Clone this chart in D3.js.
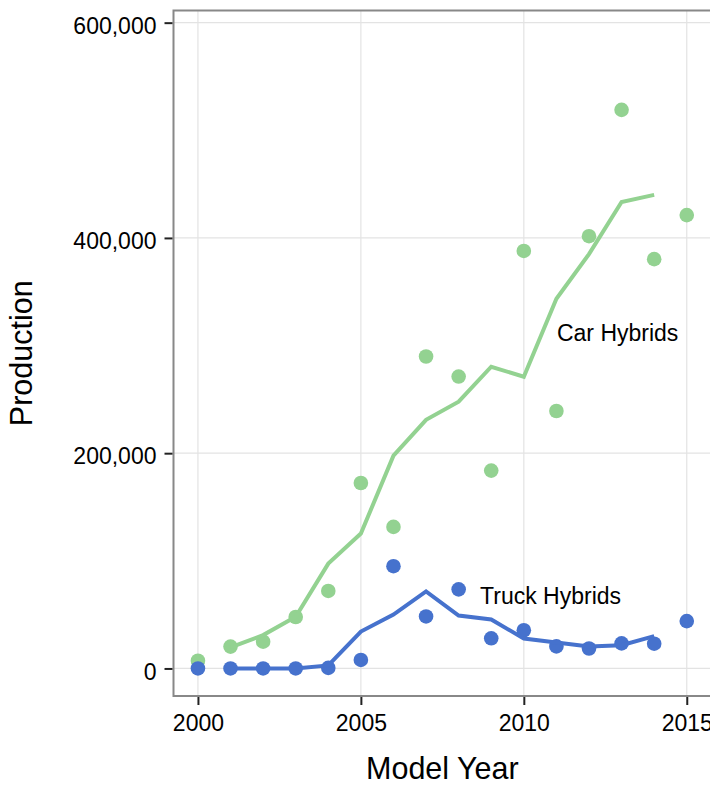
<!DOCTYPE html>
<html>
<head>
<meta charset="utf-8">
<script src="https://cdn.jsdelivr.net/npm/d3@7"></script>
<style>
  body { margin: 0; background: #fff; }
  svg { display: block; font-family: "Liberation Sans", Arial, sans-serif; }
</style>
</head>
<body>
<svg width="710" height="785"></svg>
<script>
// values
var years      = [2000, 2001, 2002, 2003, 2004, 2005, 2006, 2007, 2008, 2009, 2010, 2011, 2012, 2013, 2014, 2015];
var carPoints  = [7200, 20300, 24900, 47800, 72000, 172300, 131500, 289800, 271200, 183800, 387900, 239200, 401600, 519000, 380300, 421200];
var truckPoints = [0, 0, 0, 0, 500, 7900, 95000, 48300, 73500, 28000, 35500, 20500, 18500, 23300, 23000, 44000];

var lineYears  = [2001, 2002, 2003, 2004, 2005, 2006, 2007, 2008, 2009, 2010, 2011, 2012, 2013, 2014];
var carLine    = [19500, 31000, 48000, 97400, 125300, 197700, 231000, 247800, 280300, 271000, 343400, 385000, 433400, 440000];
var truckLine  = [0, 0, 0, 2800, 34300, 50000, 71600, 49200, 45500, 27800, 24100, 20400, 21600, 30000];

var xTicks = [2000, 2005, 2010, 2015];
var yTicks = [0, 200000, 400000, 600000];

var labels = [
  { text: "Car Hybrids",   x: 2012.88, y: 312000 },
  { text: "Truck Hybrids", x: 2010.82, y: 67400 }
];

var carColor   = "#93d291";
var truckColor = "#4672cd";

var svg = d3.select("svg");
var pLeft = 173.5, pRight = 711.2, pTop = 10.5, pBottom = 696;

var x = d3.scaleLinear().domain([1999.25, 2015.75]).range([pLeft, pRight]);
var y = d3.scaleLinear().domain([-25600, 611300]).range([pBottom, pTop]);

svg.append("rect").attr("width", 710).attr("height", 785).attr("fill", "#fff");

// grid
var grid = svg.append("g");
grid.selectAll(".gx").data(xTicks).enter().append("line")
  .attr("x1", x).attr("x2", x).attr("y1", pTop).attr("y2", pBottom)
  .attr("stroke", "#e3e3e3").attr("stroke-width", 1.2);
grid.selectAll(".gy").data(yTicks).enter().append("line")
  .attr("x1", pLeft).attr("x2", pRight).attr("y1", y).attr("y2", y)
  .attr("stroke", "#e3e3e3").attr("stroke-width", 1.2);

// car hybrids
svg.append("g").selectAll("circle").data(years).enter().append("circle")
  .attr("cx", function(d) { return x(d); })
  .attr("cy", function(d, i) { return y(carPoints[i]); })
  .attr("r", 7.3)
  .attr("fill", carColor);

var line = d3.line()
  .x(function(d) { return x(d[0]); })
  .y(function(d) { return y(d[1]); });

svg.append("path")
  .datum(d3.zip(lineYears, carLine))
  .attr("d", line)
  .attr("fill", "none")
  .attr("stroke", carColor)
  .attr("stroke-width", 4);

// truck hybrids
svg.append("g").selectAll("circle").data(years).enter().append("circle")
  .attr("cx", function(d) { return x(d); })
  .attr("cy", function(d, i) { return y(truckPoints[i]); })
  .attr("r", 7.3)
  .attr("fill", truckColor);

svg.append("path")
  .datum(d3.zip(lineYears, truckLine))
  .attr("d", line)
  .attr("fill", "none")
  .attr("stroke", truckColor)
  .attr("stroke-width", 4);

// labels
svg.selectAll(".lab").data(labels).enter().append("text")
  .attr("x", function(d) { return x(d.x); })
  .attr("y", function(d) { return y(d.y); })
  .attr("dy", "0.36em")
  .attr("text-anchor", "middle")
  .attr("font-size", 23)
  .attr("fill", "#000")
  .text(function(d) { return d.text; });

// panel border
svg.append("rect")
  .attr("x", pLeft).attr("y", pTop)
  .attr("width", pRight - pLeft).attr("height", pBottom - pTop)
  .attr("fill", "none")
  .attr("stroke", "#888")
  .attr("stroke-width", 2);

// axes
var xAxis = svg.append("g")
  .attr("transform", "translate(0," + (pBottom + 1) + ")")
  .call(d3.axisBottom(x).tickValues(xTicks).tickFormat(d3.format("d")).tickSize(8).tickPadding(10));
var yAxis = svg.append("g")
  .attr("transform", "translate(" + (pLeft - 1) + ",0)")
  .call(d3.axisLeft(y).tickValues(yTicks).tickFormat(d3.format(",")).tickSize(8).tickPadding(8));

[xAxis, yAxis].forEach(function(a) {
  a.select(".domain").remove();
  a.selectAll(".tick line").attr("stroke", "#222").attr("stroke-width", 2);
  a.selectAll(".tick text")
    .attr("fill", "#000")
    .attr("font-size", 23)
    .attr("font-family", "Liberation Sans, Arial, sans-serif");
});
yAxis.selectAll(".tick text").attr("dy", "0.47em");

// axis titles
svg.append("text")
  .attr("x", (pLeft + pRight) / 2)
  .attr("y", 779)
  .attr("text-anchor", "middle")
  .attr("font-size", 30.5)
  .text("Model Year");

svg.append("text")
  .attr("transform", "translate(32," + ((pTop + pBottom) / 2) + ") rotate(-90)")
  .attr("text-anchor", "middle")
  .attr("font-size", 30.5)
  .text("Production");
</script>
</body>
</html>
